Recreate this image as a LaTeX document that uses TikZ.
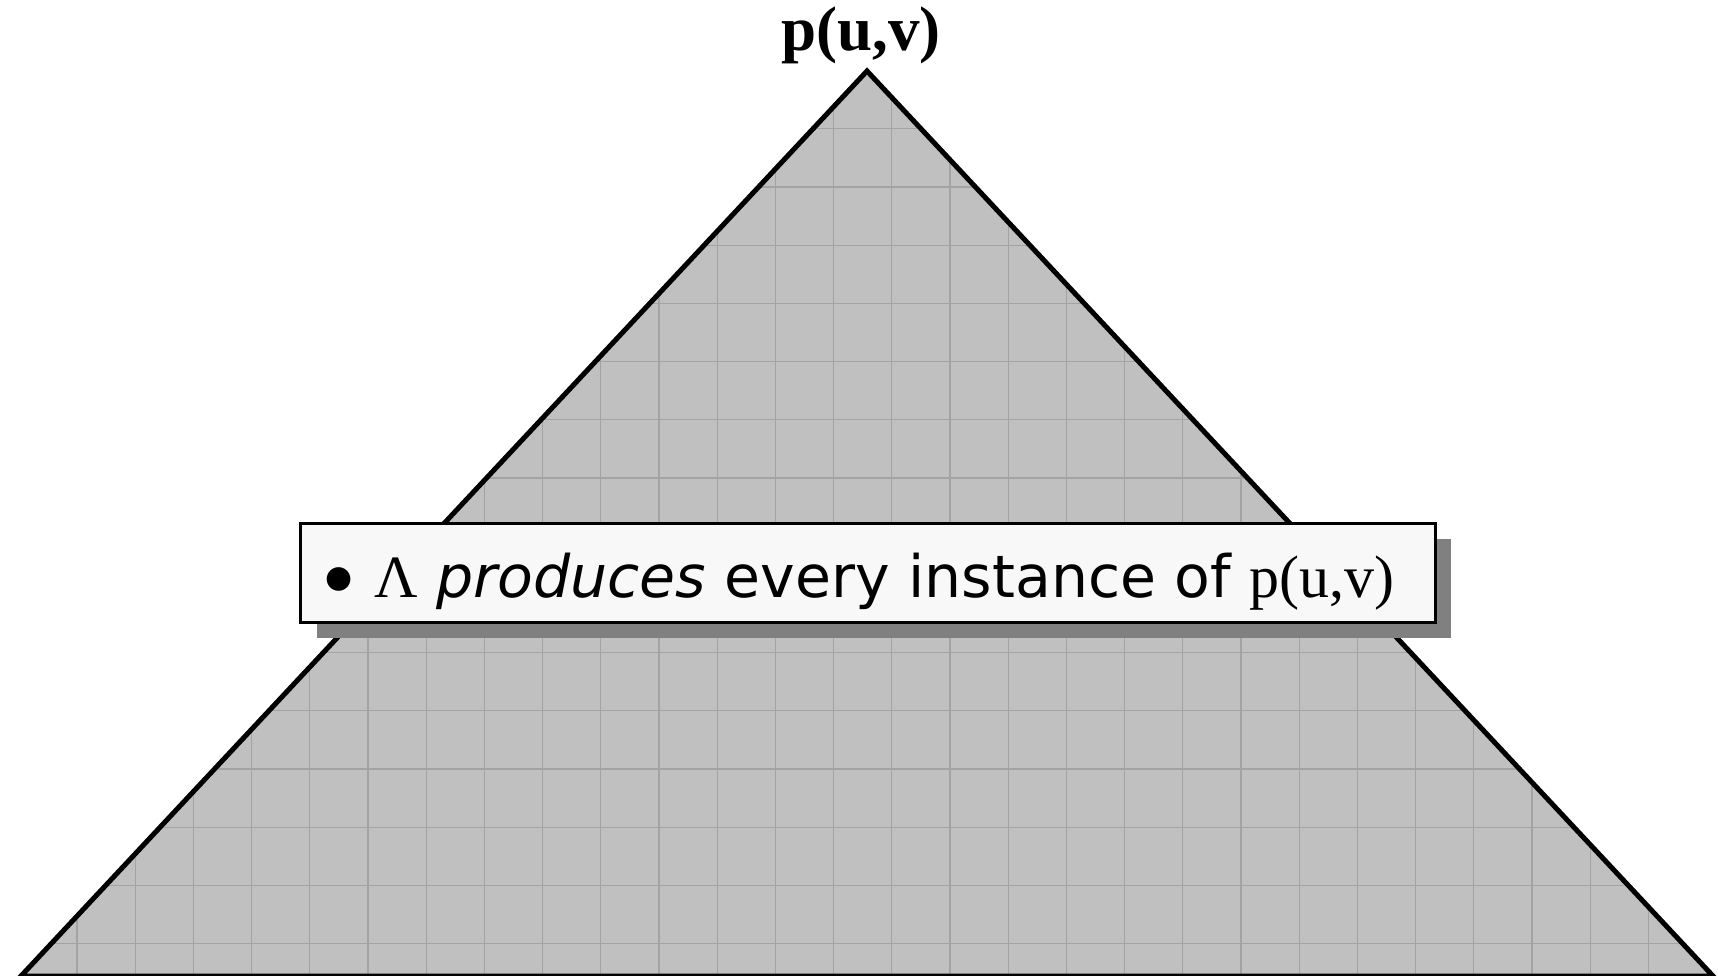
\documentclass[tikz,border=0pt]{standalone}
\usepackage{fontspec}
\setmainfont{DejaVu Sans}
\newfontfamily\serifpart{Liberation Serif}
\definecolor{trigray}{RGB}{192,192,192}
\definecolor{gridgray}{RGB}{163,163,163}
\definecolor{shadowgray}{RGB}{128,128,128}
\definecolor{boxwhite}{RGB}{248,248,248}
\begin{document}
\begin{tikzpicture}[x=1pt,y=-1pt,
  trifill/.style={fill=trigray},
  triedge/.style={draw=black,line width=5pt,line join=miter},
  gridline/.style={draw=gridgray,line width=1.2pt},
  shadowbox/.style={fill=shadowgray},
  textbox/.style={fill=boxwhite,draw=black,line width=3pt},
  bodytext/.style={font=\fontsize{58.5}{60}\selectfont,anchor=base west,inner sep=0pt},
  bullettext/.style={font=\fontsize{31}{31}\selectfont,anchor=center,inner sep=0pt},
  titletext/.style={font=\serifpart\bfseries\fontsize{63}{66}\selectfont,anchor=base,inner sep=0pt}]
\useasboundingbox (0,0) rectangle (1718,975);
\coordinate (apex) at (867,71);
\coordinate (bl) at (21,976);
\coordinate (br) at (1713,976);
\fill[trifill] (apex) -- (bl) -- (br) -- cycle;
\begin{scope}
  \clip (apex) -- (bl) -- (br) -- cycle;
  \foreach \i in {-1,...,28} \draw[gridline] ({77+58.2*\i},0) -- ({77+58.2*\i},1000);
  \foreach \j in {-3,...,14} \draw[gridline] (0,{187+58.2*\j}) -- (1718,{187+58.2*\j});
\end{scope}
\draw[triedge] (apex) -- (bl) -- (br) -- cycle;
\fill[shadowbox] (317,539) rectangle (1451,638);
\draw[textbox] (300,523) rectangle (1435,622);
\node[bullettext] (bullet) at (339,579) {●};
\node[bodytext] (label) at (374,597) {{\serifpart\fontsize{60}{60}\selectfont Λ} \textit{produces} every instance of {\serifpart\fontsize{60}{60}\selectfont p(u,v)}};
\node[titletext] (title) at (861,50) {p(u,v)};
\end{tikzpicture}
\end{document}
